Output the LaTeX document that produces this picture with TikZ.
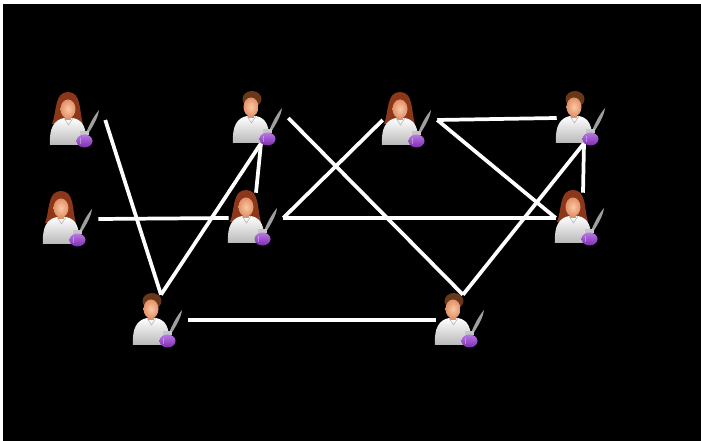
\documentclass[tikz,border=0pt]{standalone}
\usepackage{tikz}
\usetikzlibrary{positioning}

\definecolor{skin}{RGB}{250,200,165}
\definecolor{skindark}{RGB}{225,145,105}
\definecolor{hairbrown}{RGB}{105,55,25}
\definecolor{hairred}{RGB}{140,55,25}
\definecolor{inkpurple}{RGB}{125,45,175}
\definecolor{inklight}{RGB}{185,120,230}

% shirt, ink pot and quill
\newcommand{\writerbody}{%
  \shade[top color=white,bottom color=gray!55] (-28,25) .. controls (-29,8) and (-24,0) .. (-14,-2) -- (-5,-2) .. controls (5,0) and (9,8) .. (8,25) -- cycle;
  \draw[gray!60,line width=0.4pt] (-14,-2) -- (-9.5,5) -- (-5,-2);
  \fill[gray!75] (8,13) .. controls (12,3) and (16,-4) .. (21,-10) .. controls (20,-2) and (15,6) .. (10,14) -- cycle;
  \fill[gray!45] (2,11) rectangle (11,15.5);
  \shade[top color=inklight,bottom color=inkpurple] (6.5,21) ellipse [x radius=8,y radius=6.5];
  \fill[white,opacity=0.35] (1.5,18) rectangle (3,24);
}
% neck and face
\newcommand{\writerface}{%
  \fill[skindark] (-13,-4) rectangle (-7,0);
  \shade[inner color=skin,outer color=skindark] (-10,-11) ellipse [x radius=7.5,y radius=9.5];
}

\tikzset{
  person/.style={minimum width=40.5pt,minimum height=37.5pt,inner sep=0pt},
  link/.style={draw=white,line width=2.8pt},
  icon/.style={yscale=-1},
  male/.pic={
    \writerbody
    %Shape: short hair
    \fill[hairbrown] (-9,-19) ellipse [x radius=9.5,y radius=8];
    \writerface
  },
  female/.pic={
    %Shape: long hair
    \fill[hairred] (-10,-28) .. controls (-24,-28) and (-21,-8) .. (-26,4) -- (5,4) .. controls (1,-8) and (4,-28) .. (-10,-28) -- cycle;
    \writerbody
    \writerface
  }
}

\begin{document}
\begin{tikzpicture}[x=0.75pt,y=0.75pt,yscale=-1,xscale=1]
\useasboundingbox (0,0) rectangle (701,441);
\fill[white] (0,0) rectangle (701,441);
\fill[black] (3,4) rectangle (701,441);

% Person nodes
\node[person] (w1) at (78,120) {};
\node[person] (w2) at (261,118) {};
\node[person] (w3) at (410,120) {};
\node[person] (w4) at (584,118) {};
\node[person] (w5) at (71,219) {};
\node[person] (w6) at (256,218) {};
\node[person] (w7) at (583,218) {};
\node[person] (w8) at (161,320) {};
\node[person] (w9) at (463,320) {};

%Straight Lines
\draw[link] (w1.east) -- (w8.north);
\draw[link] (w8.north) -- (w2.south);
\draw[link] (w2.south) -- (w6.north);
\draw[link] (w5.east) -- (w6.west);
\draw[link] (w2.east) -- (w9.north);
\draw[link] (w3.west) -- (w6.east);
\draw[link] (w6.east) -- (w7.west);
\draw[link] (w3.east) -- (w4.west);
\draw[link] (w3.east) -- (w7.west);
\draw[link] (w4.south) -- (w9.north);
\draw[link] (w4.south) -- (w7.north);
\draw[link] (w8.east) -- (w9.west);

% Icons
\pic[icon] at (w1) {female};
\pic[icon] at (w2) {male};
\pic[icon] at (w3) {female};
\pic[icon] at (w4) {male};
\pic[icon] at (w5) {female};
\pic[icon] at (w6) {female};
\pic[icon] at (w7) {female};
\pic[icon] at (w8) {male};
\pic[icon] at (w9) {male};
\end{tikzpicture}
\end{document}
